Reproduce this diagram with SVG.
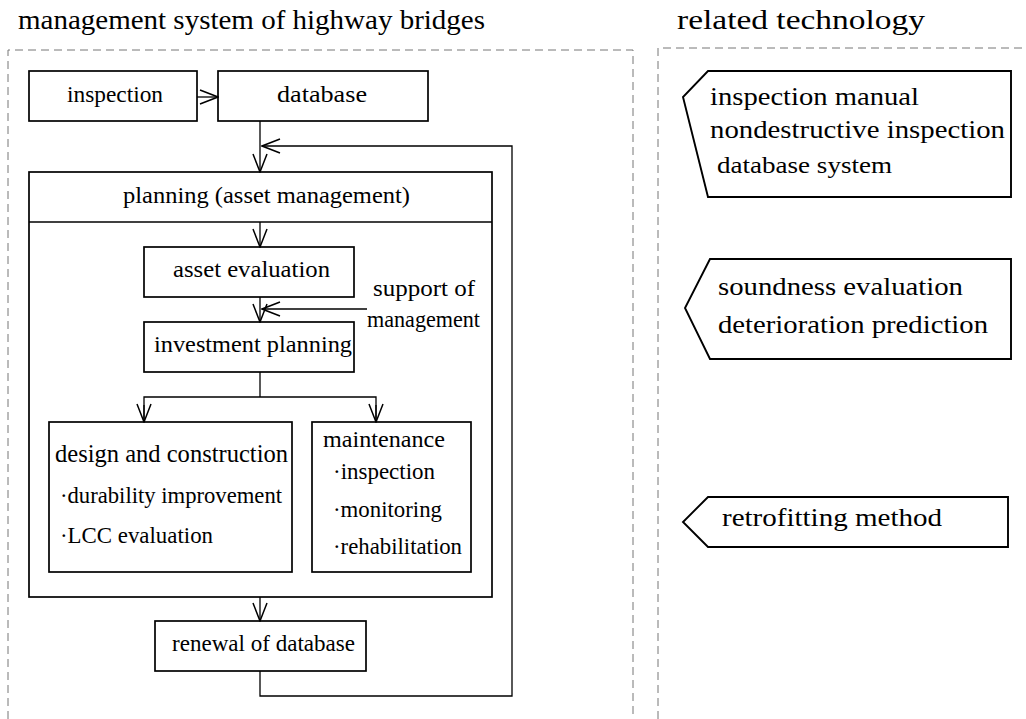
<svg xmlns="http://www.w3.org/2000/svg" width="1026" height="719" viewBox="0 0 1026 719">
<defs>
<style>
text{font-family:'Liberation Serif','Times New Roman',Times,serif;fill:#000;}
.box{fill:#fff;stroke:#000;stroke-width:1.7;}
.frame{fill:none;stroke:#000;stroke-width:1.7;}
.pent{fill:#fff;stroke:#000;stroke-width:1.9;}
.con{fill:none;stroke:#000;stroke-width:1.3;}
.dash{fill:none;stroke:#777;stroke-width:1;stroke-dasharray:8 5;}
</style>
<marker id="ah" viewBox="0 0 20 16" markerUnits="userSpaceOnUse" markerWidth="20" markerHeight="16" refX="19" refY="8" orient="auto">
<path d="M1,1 L19,8 L1,15" fill="none" stroke="#000" stroke-width="1.5"/>
</marker>
</defs>
<rect width="1026" height="719" fill="#fff"/>

<g id="panels" font-family="Liberation Serif">
<path class="dash" d="M8,719 V50 H633 V719"/>
<path class="dash" d="M658,719 V48 H1026"/>
<text x="18" y="29" font-size="27" textLength="467" lengthAdjust="spacingAndGlyphs">management system of highway bridges</text>
<text x="677" y="29" font-size="27" textLength="248" lengthAdjust="spacingAndGlyphs">related technology</text>
</g>

<g id="planning" font-family="Liberation Serif">
<rect class="frame" x="29" y="172" width="463" height="425"/>
<line class="frame" x1="29" y1="222" x2="492" y2="222"/>
<text x="123" y="203" font-size="24" textLength="287" lengthAdjust="spacingAndGlyphs">planning (asset management)</text>
</g>

<g id="inspection" font-family="Liberation Serif">
<rect class="box" x="29" y="71" width="168" height="50"/>
<text x="67" y="102" font-size="24" textLength="96" lengthAdjust="spacingAndGlyphs">inspection</text>
</g>
<g id="database" font-family="Liberation Serif">
<rect class="box" x="218" y="71" width="210" height="50"/>
<text x="277" y="102" font-size="24" textLength="90" lengthAdjust="spacingAndGlyphs">database</text>
</g>

<g id="asset-evaluation" font-family="Liberation Serif">
<rect class="box" x="144" y="247" width="210" height="50"/>
<text x="173" y="277" font-size="24" textLength="157" lengthAdjust="spacingAndGlyphs">asset evaluation</text>
</g>

<g id="support-label" font-family="Liberation Serif">
<text x="373" y="296" font-size="24" textLength="102" lengthAdjust="spacingAndGlyphs">support of</text>
<text x="367" y="327" font-size="24" textLength="113" lengthAdjust="spacingAndGlyphs">management</text>
</g>

<g id="investment-planning" font-family="Liberation Serif">
<rect class="box" x="144" y="322" width="210" height="50"/>
<text x="154" y="352" font-size="24" textLength="198" lengthAdjust="spacingAndGlyphs">investment planning</text>
</g>

<g id="design-construction" font-family="Liberation Serif">
<rect class="box" x="49" y="422" width="243" height="150"/>
<text x="55" y="462" font-size="26" textLength="233" lengthAdjust="spacingAndGlyphs">design and construction</text>
<text x="60" y="503" font-size="23" textLength="222" lengthAdjust="spacingAndGlyphs">·durability improvement</text>
<text x="60" y="543" font-size="23" textLength="153" lengthAdjust="spacingAndGlyphs">·LCC evaluation</text>
</g>

<g id="maintenance" font-family="Liberation Serif">
<rect class="box" x="312" y="422" width="159" height="150"/>
<text x="323" y="447" font-size="24" textLength="122" lengthAdjust="spacingAndGlyphs">maintenance</text>
<text x="333" y="479" font-size="23" textLength="102" lengthAdjust="spacingAndGlyphs">·inspection</text>
<text x="333" y="517" font-size="23" textLength="109" lengthAdjust="spacingAndGlyphs">·monitoring</text>
<text x="333" y="554" font-size="23" textLength="129" lengthAdjust="spacingAndGlyphs">·rehabilitation</text>
</g>

<g id="renewal" font-family="Liberation Serif">
<rect class="box" x="155" y="621" width="211" height="50"/>
<text x="172" y="651" font-size="24" textLength="183" lengthAdjust="spacingAndGlyphs">renewal of database</text>
</g>

<g id="tech-inspection" font-family="Liberation Serif">
<polygon class="pent" points="708,71 1011,71 1011,197 708,197 683,97"/>
<text x="710" y="105" font-size="25" textLength="209" lengthAdjust="spacingAndGlyphs">inspection manual</text>
<text x="710" y="138" font-size="25" textLength="295" lengthAdjust="spacingAndGlyphs">nondestructive inspection</text>
<text x="717" y="173" font-size="23" textLength="175" lengthAdjust="spacingAndGlyphs">database system</text>
</g>

<g id="tech-evaluation" font-family="Liberation Serif">
<polygon class="pent" points="710,259 1011,259 1011,359 710,359 685,308"/>
<text x="718" y="295" font-size="25" textLength="245" lengthAdjust="spacingAndGlyphs">soundness evaluation</text>
<text x="718" y="333" font-size="25" textLength="270" lengthAdjust="spacingAndGlyphs">deterioration prediction</text>
</g>

<g id="tech-retrofit" font-family="Liberation Serif">
<polygon class="pent" points="708,497 1008,497 1008,547 708,547 683,522"/>
<text x="722" y="526" font-size="25" textLength="220" lengthAdjust="spacingAndGlyphs">retrofitting method</text>
</g>

<g id="connectors">
<line class="con" x1="197" y1="97" x2="218" y2="97" marker-end="url(#ah)"/>
<line class="con" x1="260" y1="121" x2="260" y2="172" marker-end="url(#ah)"/>
<polyline class="con" points="260,671 260,696 512,696 512,146 262,146" marker-end="url(#ah)"/>
<line class="con" x1="260" y1="222" x2="260" y2="247" marker-end="url(#ah)"/>
<line class="con" x1="260" y1="297" x2="260" y2="322" marker-end="url(#ah)"/>
<line class="con" x1="367" y1="309" x2="262" y2="309" marker-end="url(#ah)"/>
<polyline class="con" points="260,372 260,397"/>
<polyline class="con" points="144,422 144,397 376,397 376,422"/>
<line class="con" x1="144" y1="405" x2="144" y2="422" marker-end="url(#ah)"/>
<line class="con" x1="376" y1="405" x2="376" y2="422" marker-end="url(#ah)"/>
<line class="con" x1="260" y1="597" x2="260" y2="621" marker-end="url(#ah)"/>
</g>
</svg>
